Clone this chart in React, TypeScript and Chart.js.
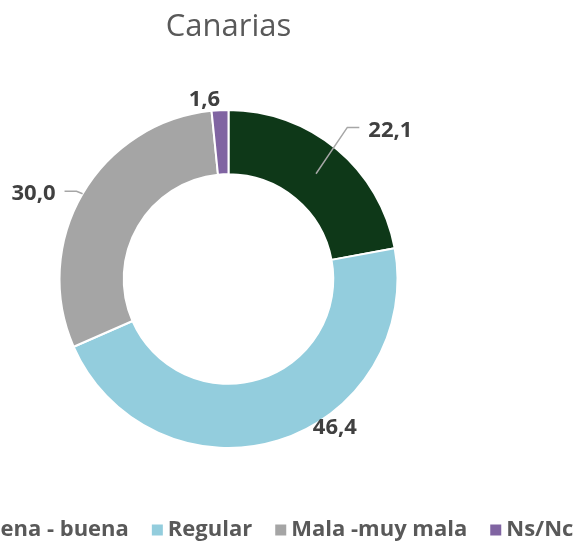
import React, { useEffect, useRef } from "react";
import { Chart, registerables } from "chart.js";

Chart.register(...registerables);

const TITLE = "Canarias";
const categories = ["Muy buena - buena", "Regular", "Mala -muy mala", "Ns/Nc"];
const values = [22.1, 46.4, 30.0, 1.6];
const valueLabels = ["22,1", "46,4", "30,0", "1,6"];
const colors = ["#0e3818", "#93cddd", "#a5a5a5", "#8064a2"];

// label placement (style): angle offset from slice mid-angle (deg), radius factor of outer radius
const labelAngleOffset = [7.7, -18.4, -6.8, -4.8];
const labelRadiusFactor = [1.3, 1.084, 1.258, 1.069];
const labelLeader = [true, false, true, false];
// where the leader starts across the ring: 0 = inner edge, 1 = outer edge
const leaderStart = [0.5, 0, 1.0, 0];

const FONT = '"Open Sans", "DejaVu Sans", sans-serif';

const customPlugin = {
  id: "customDecor",
  afterDatasetsDraw(chart: any) {
    const ctx = chart.ctx;
    const meta = chart.getDatasetMeta(0);
    ctx.save();
    ctx.font = `bold 22px ${FONT}`;
    ctx.textAlign = "center";
    ctx.textBaseline = "middle";
    meta.data.forEach((arc: any, i: number) => {
      const { x, y, startAngle, endAngle, outerRadius, innerRadius } = arc.getProps(
        ["x", "y", "startAngle", "endAngle", "outerRadius", "innerRadius"],
        true
      );
      const mid = (startAngle + endAngle) / 2;
      const a = mid + (labelAngleOffset[i] * Math.PI) / 180;
      const r = outerRadius * labelRadiusFactor[i];
      const lx = x + r * Math.cos(a);
      const ly = y + r * Math.sin(a);
      const text = valueLabels[i];
      const w = ctx.measureText(text).width;
      if (labelLeader[i]) {
        const sr = innerRadius + (outerRadius - innerRadius) * leaderStart[i];
        const sx = x + sr * Math.cos(mid);
        const sy = y + sr * Math.sin(mid);
        const onRight = lx > x;
        const edge = onRight ? lx - w / 2 : lx + w / 2;
        const dir = onRight ? -1 : 1;
        const ex = edge + dir * 21;
        const ey = ly - 3;
        const hx = edge + dir * 9;
        ctx.strokeStyle = "#a6a6a6";
        ctx.lineWidth = 1.5;
        ctx.beginPath();
        ctx.moveTo(sx, sy);
        ctx.lineTo(ex, ey);
        ctx.lineTo(hx, ey);
        ctx.stroke();
      }
      ctx.fillStyle = "#404040";
      ctx.fillText(text, lx, ly);
    });
    ctx.restore();
  },
  afterDraw(chart: any) {
    const ctx = chart.ctx;
    ctx.save();
    // title
    ctx.font = `31px ${FONT}`;
    ctx.fillStyle = "#595959";
    ctx.textAlign = "center";
    ctx.textBaseline = "alphabetic";
    const area = chart.chartArea;
    ctx.fillText(TITLE, (area.left + area.right) / 2, 36);

    // legend
    ctx.font = `bold 22px ${FONT}`;
    ctx.textBaseline = "middle";
    ctx.textAlign = "left";
    const box = 11;
    const boxGap = 5;
    const itemGap = 23;
    const widths = categories.map((c) => ctx.measureText(c).width);
    const total =
      widths.reduce((s, w) => s + box + boxGap + w, 0) + itemGap * (categories.length - 1);
    let cx = 238 - total / 2;
    const cy = 530;
    categories.forEach((c, i) => {
      ctx.fillStyle = colors[i];
      ctx.fillRect(cx, cy - box / 2, box, box);
      cx += box + boxGap;
      ctx.fillStyle = "#595959";
      ctx.fillText(c, cx, cy);
      cx += widths[i] + itemGap;
    });
    ctx.restore();
  },
};

export default function App() {
  const ref = useRef<HTMLCanvasElement | null>(null);
  useEffect(() => {
    if (!ref.current) return;
    const chart = new Chart(ref.current, {
      type: "doughnut",
      data: {
        labels: categories,
        datasets: [
          {
            data: values,
            backgroundColor: colors,
            borderColor: "#ffffff",
            borderWidth: 2,
          },
        ],
      },
      options: {
        responsive: false,
        animation: false,
        radius: 169,
        cutout: "62%",
        layout: { padding: { left: 60, right: 180, top: 110, bottom: 95 } },
        plugins: {
          legend: { display: false },
          title: { display: false },
          tooltip: { enabled: false },
        },
      } as any,
      plugins: [customPlugin],
    });
    return () => chart.destroy();
  }, []);
  return (
    <div style={{ position: "absolute", left: 0, top: 0, width: 577, height: 543, background: "#fff" }}>
      <canvas ref={ref} width={577} height={543} style={{ width: 577, height: 543, display: "block" }} />
    </div>
  );
}
